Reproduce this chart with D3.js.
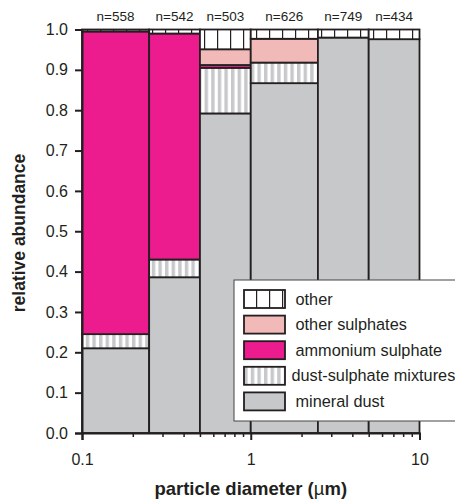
<!DOCTYPE html>
<html>
<head>
<meta charset="utf-8">
<script src="https://cdn.jsdelivr.net/npm/d3@7"></script>
<style>
  body { margin: 0; background: #fff; }
  text { font-family: "Liberation Sans", Arial, sans-serif; fill: #231f20; }
</style>
</head>
<body>
<div id="chart"></div>
<script>
// size bins (particle diameter, um)
var binEdges = [0.1, 0.25, 0.5, 1, 2.5, 5, 10];
var counts = [558, 542, 503, 626, 749, 434];

// relative abundance per bin, stacked bottom -> top
var mineralDust = [0.21, 0.386, 0.792, 0.867, 0.98, 0.976];
var dustSulphate = [0.035, 0.044, 0.113, 0.051, 0, 0];
var ammoniumSulphate = [0.75, 0.56, 0.007, 0, 0, 0];
var otherSulphates = [0, 0, 0.039, 0.059, 0, 0];
var other = [0.005, 0.01, 0.049, 0.023, 0.02, 0.024];

var yTicks = [0, 0.1, 0.2, 0.3, 0.4, 0.5, 0.6, 0.7, 0.8, 0.9, 1.0];
var xMajor = [0.1, 1, 10];
var xMinor = [0.2, 0.3, 0.4, 0.5, 0.6, 0.7, 0.8, 0.9, 2, 3, 4, 5, 6, 7, 8, 9];

var series = [
  { name: "mineral dust", values: mineralDust, fill: "#c7c8ca" },
  { name: "dust-sulphate mixtures", values: dustSulphate, fill: "url(#stripeGray)" },
  { name: "ammonium sulphate", values: ammoniumSulphate, fill: "#ec1c8e" },
  { name: "other sulphates", values: otherSulphates, fill: "#f2b9b9" },
  { name: "other", values: other, fill: "url(#stripeBlack)" }
];

var width = 455, height = 500;
var ink = "#231f20";
var fontFam = "Liberation Sans, Arial, sans-serif";

var svg = d3.select("#chart").append("svg")
  .attr("width", width)
  .attr("height", height);

// hatch patterns
var defs = svg.append("defs");
var p1 = defs.append("pattern").attr("id", "stripeGray")
  .attr("patternUnits", "userSpaceOnUse").attr("width", 6.6).attr("height", 10);
p1.append("rect").attr("width", 6.6).attr("height", 10).attr("fill", "#fff");
p1.append("rect").attr("x", 0).attr("width", 3.4).attr("height", 10).attr("fill", "#c7c8ca");

var p2 = defs.append("pattern").attr("id", "stripeBlack")
  .attr("patternUnits", "userSpaceOnUse").attr("width", 13).attr("height", 10)
  .attr("x", 3);
p2.append("rect").attr("width", 13).attr("height", 10).attr("fill", "#fff");
p2.append("rect").attr("x", 6).attr("width", 1.2).attr("height", 10).attr("fill", ink);

var x = d3.scaleLog().domain([0.1, 10]).range([82, 419.5]);
var y = d3.scaleLinear().domain([0, 1]).range([433, 29.5]);

// build stacked segments
var segs = [];
counts.forEach(function(n, i) {
  var base = 0;
  series.forEach(function(s) {
    var v = s.values[i];
    if (v > 0) {
      segs.push({ bin: i, y0: base, y1: base + v, fill: s.fill });
    }
    base += v;
  });
});

// top frame line
svg.append("line")
  .attr("x1", x(0.1)).attr("x2", x(10))
  .attr("y1", y(1)).attr("y2", y(1))
  .attr("stroke", "#9a9a9a").attr("stroke-width", 1);

svg.selectAll(".seg")
  .data(segs)
  .enter()
  .append("rect")
  .attr("class", "seg")
  .attr("x", d => x(binEdges[d.bin]))
  .attr("width", d => x(binEdges[d.bin + 1]) - x(binEdges[d.bin]))
  .attr("y", d => y(d.y1))
  .attr("height", d => y(d.y0) - y(d.y1))
  .attr("fill", d => d.fill)
  .attr("stroke", ink)
  .attr("stroke-width", 1.8);

// n labels
svg.selectAll(".nlab")
  .data(counts)
  .enter()
  .append("text")
  .attr("x", (d, i) => x(Math.sqrt(binEdges[i] * binEdges[i + 1])))
  .attr("y", 21)
  .attr("text-anchor", "middle")
  .attr("font-size", 13.5)
  .text(d => "n=" + d);

// y axis
var yAxis = d3.axisLeft(y).tickValues(yTicks).tickFormat(d3.format(".1f")).tickSize(7).tickPadding(7);
var gy = svg.append("g").attr("transform", "translate(82,0)").call(yAxis);
gy.select(".domain").attr("stroke", ink).attr("stroke-width", 2);
gy.selectAll(".tick line").attr("stroke", ink).attr("stroke-width", 2);
gy.selectAll(".tick text").attr("font-size", 16).attr("fill", ink)
  .style("font-family", fontFam);

// x axis
var gxMinor = svg.append("g").attr("transform", "translate(0,433)")
  .call(d3.axisBottom(x).tickValues(xMinor).tickSize(4).tickFormat(""));
gxMinor.select(".domain").remove();
gxMinor.selectAll(".tick line").attr("stroke", ink).attr("stroke-width", 1.5);

var gx = svg.append("g").attr("transform", "translate(0,433)")
  .call(d3.axisBottom(x).tickValues(xMajor).tickSize(7).tickPadding(14).tickFormat(d3.format("")));
gx.select(".domain").attr("stroke", ink).attr("stroke-width", 2);
gx.selectAll(".tick line").attr("stroke", ink).attr("stroke-width", 2);
gx.selectAll(".tick text").attr("font-size", 16).attr("fill", ink)
  .style("font-family", fontFam);

// axis titles
svg.append("text")
  .attr("x", x(1)).attr("y", 495)
  .attr("text-anchor", "middle")
  .attr("font-size", 18.5).attr("font-weight", "bold")
  .html("particle diameter (<tspan font-weight='normal'>\u00b5</tspan>m)");

svg.append("text")
  .attr("transform", "translate(25,233) rotate(-90)")
  .attr("text-anchor", "middle")
  .attr("font-size", 17.5).attr("font-weight", "bold")
  .text("relative abundance");

// legend
var legend = svg.append("g");
legend.append("rect")
  .attr("x", 234).attr("y", 280)
  .attr("width", 240).attr("height", 141)
  .attr("fill", "#fff").attr("stroke", "#444").attr("stroke-width", 1);

var legendItems = series.slice().reverse();
var rowY = d3.scaleBand().domain(legendItems.map(d => d.name)).range([286, 414]);

var li = legend.selectAll(".li")
  .data(legendItems)
  .enter()
  .append("g")
  .attr("transform", d => "translate(0," + rowY(d.name) + ")");

li.append("rect")
  .attr("x", 244).attr("y", 4)
  .attr("width", 41).attr("height", 18)
  .attr("fill", d => d.fill)
  .attr("stroke", ink).attr("stroke-width", 1.8);

li.append("text")
  .attr("x", d => d.name === "dust-sulphate mixtures" ? 291.5 : 295.5)
  .attr("y", 18.5)
  .attr("font-size", 16.3)
  .text(d => d.name);
</script>
</body>
</html>
